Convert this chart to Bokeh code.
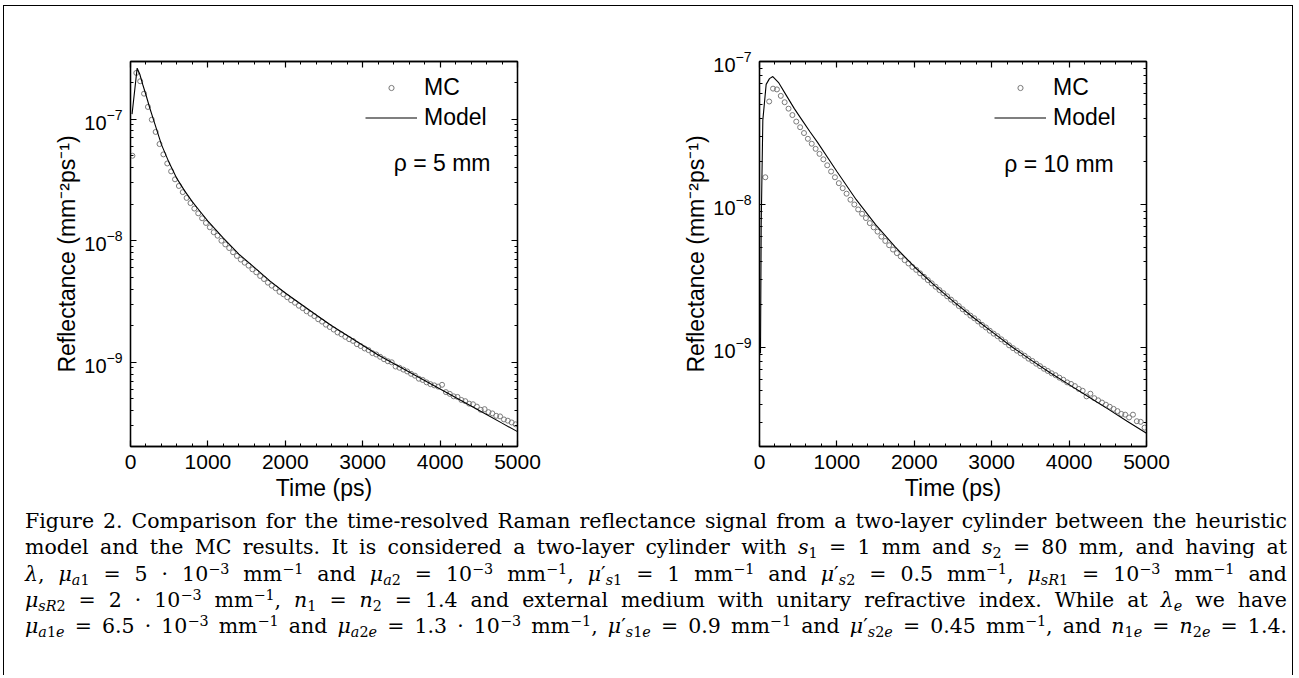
from bokeh.plotting import figure
from bokeh.models import (Range1d, LogAxis, LinearAxis, LogTicker, SingleIntervalTicker,
                          Legend, LegendItem, Label, CustomJSTickFormatter, Div, InlineStyleSheet)
from bokeh.layouts import row, column
from bokeh.embed import file_html
from bokeh.resources import INLINE

# ---------------- data ----------------
x_ticks = [0, 1000, 2000, 3000, 4000, 5000]

# rho = 5 mm panel
model5_t = [20, 86, 120, 160, 200, 250, 300, 400, 500, 600, 700, 800, 900, 1000, 1200, 1400,
            1600, 1800, 2000, 2200, 2400, 2600, 2800, 3000, 3200, 3400, 3600, 3800, 4000,
            4200, 4400, 4600, 4800, 5000]
model5_r = [1.10e-7, 2.63e-7, 2.34e-7, 1.91e-7, 1.58e-7, 1.23e-7, 9.77e-8, 6.17e-8, 4.37e-8,
            3.24e-8, 2.57e-8, 2.09e-8, 1.74e-8, 1.45e-8, 1.05e-8, 7.76e-9, 6.03e-9, 4.68e-9,
            3.72e-9, 3.02e-9, 2.45e-9, 2.00e-9, 1.66e-9, 1.38e-9, 1.15e-9, 9.77e-10, 8.32e-10,
            7.08e-10, 6.03e-10, 5.13e-10, 4.37e-10, 3.72e-10, 3.16e-10, 2.69e-10]
mc5_t = list(range(25, 5000, 50))
mc5_r = [5.0e-8, 2.4e-7, 2.05e-7, 1.62e-7, 1.26e-7, 9.9e-8, 7.85e-8, 6.24e-8, 5.13e-8, 4.32e-8,
         3.72e-8, 3.20e-8, 2.82e-8, 2.51e-8, 2.25e-8, 2.04e-8, 1.84e-8, 1.68e-8, 1.53e-8, 1.40e-8,
         1.29e-8, 1.175e-8, 1.10e-8, 1.00e-8, 9.33e-9, 8.71e-9, 8.04e-9, 7.50e-9, 7.00e-9, 6.60e-9,
         6.24e-9, 5.82e-9, 5.50e-9, 5.13e-9, 4.84e-9, 4.52e-9, 4.27e-9, 4.07e-9, 3.80e-9, 3.63e-9,
         3.43e-9, 3.24e-9, 3.09e-9, 2.92e-9, 2.79e-9, 2.63e-9, 2.51e-9, 2.40e-9, 2.26e-9, 2.16e-9,
         2.04e-9, 1.95e-9, 1.86e-9, 1.76e-9, 1.70e-9, 1.62e-9, 1.55e-9, 1.50e-9, 1.41e-9, 1.36e-9,
         1.30e-9, 1.26e-9, 1.19e-9, 1.16e-9, 1.11e-9, 1.06e-9, 1.02e-9, 1.00e-9, 9.23e-10, 9.02e-10,
         8.71e-10, 8.41e-10, 8.04e-10, 7.76e-10, 7.33e-10, 7.16e-10, 6.84e-10, 6.61e-10, 6.46e-10, 6.31e-10,
         6.53e-10, 5.69e-10, 5.50e-10, 5.25e-10, 5.19e-10, 4.90e-10, 4.79e-10, 4.57e-10, 4.52e-10, 4.32e-10,
         4.07e-10, 4.12e-10, 3.89e-10, 3.80e-10, 3.63e-10, 3.59e-10, 3.39e-10, 3.31e-10, 3.20e-10, 3.09e-10]

# rho = 10 mm panel
model10_t = [13, 22, 43, 86, 129, 172, 250, 350, 450, 550, 650, 750, 1000, 1250, 1500, 1750,
             2000, 2250, 2500, 2750, 3000, 3250, 3500, 3750, 4000, 4250, 4500, 4750, 5000]
model10_r = [9.12e-10, 7.24e-9, 3.89e-8, 6.92e-8, 7.59e-8, 7.85e-8, 7.08e-8, 5.75e-8, 4.68e-8,
             3.89e-8, 3.24e-8, 2.72e-8, 1.70e-8, 1.08e-8, 7.24e-9, 5.07e-9, 3.67e-9, 2.75e-9,
             2.11e-9, 1.64e-9, 1.29e-9, 1.02e-9, 8.22e-10, 6.68e-10, 5.50e-10, 4.52e-10, 3.72e-10,
             3.05e-10, 2.51e-10]
mc10_t = list(range(75, 5000, 50))
mc10_r = [1.55e-8, 5.25e-8, 6.46e-8, 6.38e-8, 5.75e-8, 5.19e-8, 4.68e-8, 4.22e-8, 3.80e-8, 3.47e-8,
          3.16e-8, 2.88e-8, 2.66e-8, 2.45e-8, 2.26e-8, 2.07e-8, 1.88e-8, 1.70e-8, 1.55e-8,
          1.41e-8, 1.30e-8, 1.19e-8, 1.08e-8, 1.00e-8, 9.23e-9, 8.61e-9, 8.04e-9, 7.41e-9, 6.92e-9,
          6.46e-9, 5.96e-9, 5.56e-9, 5.19e-9, 4.84e-9, 4.57e-9, 4.33e-9, 4.08e-9, 3.87e-9, 3.66e-9,
          3.49e-9, 3.30e-9, 3.12e-9, 2.96e-9, 2.81e-9, 2.66e-9, 2.52e-9, 2.40e-9, 2.28e-9, 2.16e-9,
          2.06e-9, 1.95e-9, 1.85e-9, 1.76e-9, 1.67e-9, 1.60e-9, 1.52e-9, 1.44e-9, 1.38e-9, 1.31e-9,
          1.25e-9, 1.20e-9, 1.14e-9, 1.09e-9, 1.035e-9, 9.89e-10, 9.50e-10, 9.10e-10, 8.75e-10, 8.35e-10,
          8.05e-10, 7.70e-10, 7.40e-10, 7.10e-10, 6.85e-10, 6.60e-10, 6.40e-10, 6.15e-10, 5.95e-10, 5.70e-10,
          5.56e-10, 5.37e-10, 5.13e-10, 4.98e-10, 4.55e-10, 4.75e-10, 4.42e-10, 4.27e-10, 4.12e-10, 3.98e-10,
          3.85e-10, 3.72e-10, 3.59e-10, 3.43e-10, 3.39e-10, 3.24e-10, 3.39e-10, 3.05e-10, 3.02e-10, 2.75e-10]

legend_labels = ["MC", "Model"]
x_title = "Time (ps)"
y_title = "Reflectance (mm\u207b\u00b2ps\u207b\u00b9)"

FONT = "Liberation Sans"


def style_axis(ax, label_size="20px"):
    ax.axis_line_color = "black"
    ax.axis_line_width = 1.3
    ax.major_tick_in = 6
    ax.major_tick_out = 0
    ax.minor_tick_in = 3
    ax.minor_tick_out = 0
    ax.major_tick_line_color = "black"
    ax.minor_tick_line_color = "black"
    ax.major_tick_line_width = 1.2
    ax.minor_tick_line_width = 1
    ax.major_label_text_font = FONT
    ax.major_label_text_font_size = label_size
    ax.major_label_text_color = "black"
    ax.major_label_standoff = 8
    ax.axis_label_text_font = FONT
    ax.axis_label_text_font_size = "23px"
    ax.axis_label_text_font_style = "normal"
    ax.axis_label_text_color = "black"


def panel(mt, mr, ct, cr, y_lo, y_hi, rho, rho_x, rho_y, mb_left, mb_right):
    p = figure(frame_width=387, frame_height=385,
               x_range=Range1d(0, 5000), y_range=Range1d(y_lo, y_hi),
               y_axis_type="log", output_backend="svg", toolbar_location=None,
               min_border_left=mb_left, min_border_right=mb_right,
               min_border_top=55, min_border_bottom=59,
               background_fill_color="white", border_fill_alpha=0,
               outline_line_color="black", outline_line_width=1.3)
    p.grid.visible = False

    xt = SingleIntervalTicker(interval=1000, num_minor_ticks=5)
    yt = LogTicker(num_minor_ticks=10)

    xa = p.xaxis[0]
    ya = p.yaxis[0]
    xa.ticker = xt
    ya.ticker = yt
    style_axis(xa, "21px")
    style_axis(ya, "20px")
    xa.axis_label = x_title
    ya.axis_label = y_title
    xa.axis_label_standoff = 3
    ya.axis_label_standoff = 1

    top = LinearAxis(ticker=xt, formatter=CustomJSTickFormatter(code="return ''"))
    right = LogAxis(ticker=yt, formatter=CustomJSTickFormatter(code="return ''"))
    style_axis(top)
    style_axis(right)
    top.major_label_standoff = 0
    right.major_label_standoff = 0
    p.add_layout(top, "above")
    p.add_layout(right, "right")

    sc = p.scatter(ct, cr, marker="circle", size=5, fill_color=None,
                   line_color="#7a7a7a", line_width=1)
    ln = p.line(mt, mr, line_color="black", line_width=1.1)

    leg = Legend(items=[LegendItem(label=legend_labels[0], renderers=[sc]),
                        LegendItem(label=legend_labels[1], renderers=[ln])],
                 location=(235, 315), margin=0, padding=0, spacing=3,
                 glyph_width=52, glyph_height=13, label_height=13, label_standoff=7,
                 label_text_font=FONT, label_text_font_size="23px",
                 label_text_color="black",
                 border_line_color=None, background_fill_alpha=0)
    p.add_layout(leg)

    p.add_layout(Label(x=rho_x, y=rho_y, text=rho, text_align="right",
                       text_baseline="middle", text_font=FONT,
                       text_font_size="23px", text_color="black"))
    return p


p1 = panel(model5_t, model5_r, mc5_t, mc5_r, 2.03e-10, 2.98e-7,
           "\u03c1 = 5 mm", 4651, 4.35e-8, 126, 115)
p2 = panel(model10_t, model10_r, mc10_t, mc10_r, 2.03e-10, 1.0e-7,
           "\u03c1 = 10 mm", 4577, 1.92e-8, 127, 146)

caption_lines = [
    "Figure 2. Comparison for the time-resolved Raman reflectance signal from a two-layer cylinder between the heuristic",
    "model and the MC results. It is considered a two-layer cylinder with <i>s</i><sub>1</sub> = 1 mm and <i>s</i><sub>2</sub> = 80 mm, and having at",
    "<i>\u03bb</i>, <i>\u03bc</i><sub><i>a</i>1</sub> = 5 \u00b7 10<sup>\u22123</sup> mm<sup>\u22121</sup> and "
    "<i>\u03bc</i><sub><i>a</i>2</sub> = 10<sup>\u22123</sup> mm<sup>\u22121</sup>, "
    "<i>\u03bc</i>\u2032<sub><i>s</i>1</sub> = 1 mm<sup>\u22121</sup> and "
    "<i>\u03bc</i>\u2032<sub><i>s</i>2</sub> = 0.5 mm<sup>\u22121</sup>, "
    "<i>\u03bc</i><sub><i>sR</i>1</sub> = 10<sup>\u22123</sup> mm<sup>\u22121</sup> and",
    "<i>\u03bc</i><sub><i>sR</i>2</sub> = 2 \u00b7 10<sup>\u22123</sup> mm<sup>\u22121</sup>, "
    "<i>n</i><sub>1</sub> = <i>n</i><sub>2</sub> = 1.4 and external medium with unitary refractive index. "
    "While at <i>\u03bb</i><sub><i>e</i></sub> we have",
    "<i>\u03bc</i><sub><i>a</i>1<i>e</i></sub> = 6.5 \u00b7 10<sup>\u22123</sup> mm<sup>\u22121</sup> and "
    "<i>\u03bc</i><sub><i>a</i>2<i>e</i></sub> = 1.3 \u00b7 10<sup>\u22123</sup> mm<sup>\u22121</sup>, "
    "<i>\u03bc</i>\u2032<sub><i>s</i>1<i>e</i></sub> = 0.9 mm<sup>\u22121</sup> and "
    "<i>\u03bc</i>\u2032<sub><i>s</i>2<i>e</i></sub> = 0.45 mm<sup>\u22121</sup>, and "
    "<i>n</i><sub>1<i>e</i></sub> = <i>n</i><sub>2<i>e</i></sub> = 1.4.",
]

css = InlineStyleSheet(css="""
.cap { font-family: 'DejaVu Serif', serif; font-size: 20.5px; line-height: 26.3px;
       text-align: justify; text-align-last: justify; color: #000;
       padding: 0 0 0 16px; margin-top: -2px; box-sizing: border-box; width: 1278px; }
.cap sub, .cap sup { font-size: 70%; line-height: 0; }
.cap sup { vertical-align: 0.5em; }
.cap sub { vertical-align: -0.3em; }
""")
cap = Div(text='<div class="cap">' + "<br>".join(caption_lines) + "</div>",
          width=1278, height=160, stylesheets=[css])

layout = column(row(p1, p2), cap,
                styles={"border": "1px solid black", "border-bottom": "none",
                        "margin-left": "3px", "margin-top": "5px",
                        "background-color": "white"})

open("out.html", "w").write(file_html(layout, INLINE))
